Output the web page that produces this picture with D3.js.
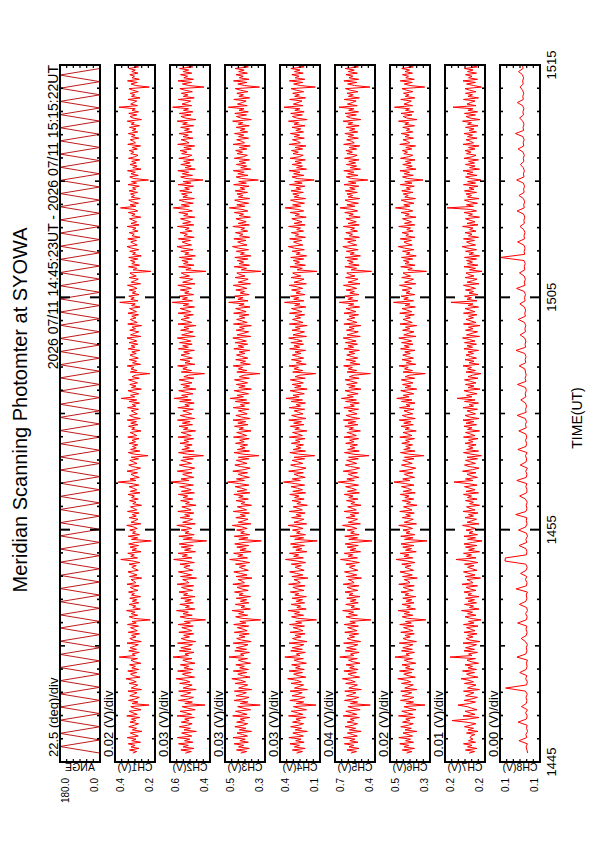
<!DOCTYPE html>
<html><head><meta charset="utf-8">
<script src="https://cdn.jsdelivr.net/npm/d3@7"></script>
<style>
body{margin:0;background:#fff}
svg text{font-family:"Liberation Sans",Arial,Helvetica,sans-serif;fill:#000}
</style></head>
<body><svg id="c" width="595" height="842"></svg>
<script>
// ---------------- data ----------------
const titleText = "Meridian Scanning Photomter at SYOWA";
const subtitleText = "2026 07/11 14:45:23UT - 2026 07/11 15:15:22UT";
const timeTickMinutes = [0, 10, 20, 30];            // minutes after 14:45 UT
const timeTickLabels = ["1445", "1455", "1505", "1515"];
const timeAxisTitle = "TIME(UT)";
const panelNames = ["ANGE", "CH1(V)", "CH2(V)", "CH3(V)", "CH4(V)", "CH5(V)", "CH6(V)", "CH7(V)", "CH8(V)"];
const divLabels = ["22.5 (deg)/div", "0.02 (V)/div", "0.03 (V)/div", "0.03 (V)/div", "0.03 (V)/div", "0.04 (V)/div", "0.02 (V)/div", "0.01 (V)/div", "0.00 (V)/div"];
const topValueLabels = ["180.0", "0.4", "0.6", "0.5", "0.4", "0.7", "0.5", "0.2", "0.1"];
const bottomValueLabels = ["0.0", "0.2", "0.4", "0.3", "0.1", "0.4", "0.3", "0.2", "0.1"];
// value ranges [bottom, top]; angle in deg, channels in mV
const valueRanges = [[0, 180], [245, 405], [400, 640], [300, 540], [140, 380], [380, 700], [330, 490], [160, 240], [100, 130]];

// scan angle at turning points, every 17 s from 14:45:23
const angleStartSec = 23, angleStepSec = 17;
const angleDeg = [0,180,0,180,0,180,0,180,0,180,0,180,0,180,0,180,0,180,0,180,0,180,0,180,0,180,0,180,0,180,
0,180,0,180,0,180,0,180,0,180,0,180,0,180,0,180,0,180,0,180,0,180,0,180,0,180,0,180,0,180,
0,180,0,180,0,180,0,180,0,180,0,180,0,180,0,180,0,180,0,180,0,180,0,180,0,180,0,180,0,180,
0,180,0,180,0,180,0,180,0,180,0,180,0,180,0];

// CH1..CH7 sampled every 4 s from 14:45:23 (mV)
const chStartSec = 23, chStepSec = 4;
const ch1 = [334,318,347,309,341,325,352,303,338,321,356,312,329,344,297,336,319,350,327,311,
345,322,339,306,358,316,333,348,301,327,342,269,337,313,351,324,308,346,330,317,
353,299,340,326,314,349,320,335,361,305,331,343,318,354,310,338,323,347,302,329,
341,315,388,324,336,308,350,319,345,327,312,357,300,333,346,321,339,307,352,316,
328,343,311,355,320,337,264,331,348,314,340,325,359,304,334,322,349,310,336,318,
346,303,339,327,351,313,332,344,309,357,322,330,341,298,347,317,335,353,312,326,
338,320,349,306,333,382,315,342,328,354,301,337,319,345,311,350,324,260,339,314,
352,307,335,323,346,316,331,358,302,341,326,313,348,320,336,309,355,318,330,343,
299,334,321,347,312,339,327,353,305,344,318,332,349,310,337,392,322,345,308,329,
341,315,357,324,303,336,350,317,331,346,311,340,273,328,352,306,343,320,335,314,
348,323,337,309,354,318,330,345,301,338,326,351,313,342,319,356,304,333,347,316,
329,340,311,355,322,336,307,349,318,380,326,343,310,334,353,300,339,321,346,315,
332,351,308,337,324,266,344,317,341,329,356,303,335,319,348,312,331,345,320,338,
306,352,325,340,314,349,318,334,357,302,343,327,310,346,323,337,299,354,316,330,
344,321,338,311,353,319,333,347,305,339,324,386,313,342,328,350,309,336,322,348,
317,331,355,303,340,326,312,349,320,336,345,262,332,318,351,307,338,325,343,314,
350,300,335,323,346,310,339,357,316,331,342,319,354,305,337,328,348,313,334,321,
356,309,341,318,333,347,302,338,325,352,314,329,383,321,345,311,336,350,304,340,
327,343,315,349,322,335,308,353,319,339,271,332,346,312,341,324,355,301,334,317,
345,320,338,306,351,326,313,342,330,348,316,337,303,354,323,331,344,310,339,325,
352,314,336,321,347,307,340,328,356,299,333,345,318,350,311,337,324,389,315,342,
330,318,353,305,339,326,344,312,335,349,268,322,341,316,355,308,337,327,346,313,
338,324,350,311,333];
const ch2 = [548,512,575,497,561,530,589,503,553,521,596,509,538,570,482,556,518,585,534,507,
572,526,552,494,598,511,543,580,489,534,567,430,551,506,590,529,499,576,540,515,
588,483,561,533,507,582,520,548,603,493,539,566,513,594,502,555,527,578,490,536,
563,508,622,529,550,496,584,514,575,532,505,595,486,545,573,523,558,498,587,510,
535,569,501,592,518,554,427,541,579,507,562,530,601,491,547,524,581,500,551,513,
575,490,559,534,586,504,543,571,498,597,526,540,564,481,577,511,549,590,503,533,
557,520,580,494,545,618,508,566,536,591,487,553,516,572,501,585,529,420,560,506,
587,495,549,527,573,510,541,599,488,564,531,505,578,521,552,497,593,514,539,569,
484,547,524,576,503,561,534,590,494,571,513,543,582,500,556,634,526,574,497,537,
564,508,596,529,492,550,584,511,541,575,500,563,439,535,589,495,569,523,552,507,
580,528,555,498,592,513,540,573,487,559,532,586,505,566,519,595,492,545,578,510,
537,563,500,593,525,551,495,582,513,615,533,570,502,546,588,485,560,522,575,508,
541,586,497,557,529,433,572,511,563,537,594,491,550,520,579,506,542,574,523,558,
494,590,530,564,507,583,515,548,596,489,570,534,501,576,527,556,485,592,510,540,
573,524,557,500,591,516,546,579,493,560,528,627,505,566,535,585,498,552,526,578,
512,543,593,490,564,530,504,582,523,554,572,425,545,514,588,496,559,531,569,506,
584,488,551,527,575,502,562,598,511,544,567,517,590,495,556,536,580,507,548,525,
596,497,564,516,547,577,491,558,532,587,506,541,620,524,572,501,553,585,494,563,
535,571,508,582,524,552,499,591,515,561,442,545,576,505,566,528,593,489,549,513,
575,519,558,496,587,533,509,570,538,579,512,557,492,594,526,543,573,502,562,530,
586,507,553,523,576,498,564,536,597,485,548,574,514,584,503,559,529,624,510,568,
540,516,590,495,560,532,572,506,551,581,436,527,566,511,592,499,557,534,577,509,
561,528,583,503,547];
const ch3 = [446,410,471,394,459,428,485,400,451,419,492,405,436,468,381,454,415,481,432,404,
470,423,449,391,494,408,440,477,386,431,464,329,448,403,486,426,396,473,437,412,
484,380,458,430,404,479,417,445,499,390,436,463,410,490,399,452,424,475,387,433,
460,405,516,426,447,393,481,411,472,429,402,491,383,442,470,420,455,395,484,407,
432,466,398,488,415,451,326,438,476,404,459,427,497,388,444,421,478,397,448,410,
472,387,456,431,483,401,440,468,395,493,423,437,461,378,474,408,446,487,400,430,
454,417,477,391,442,512,405,463,433,488,384,450,413,469,398,482,426,322,457,403,
484,392,446,424,470,407,438,496,385,461,428,402,475,418,449,394,490,411,436,466,
381,444,421,473,400,458,431,487,391,468,410,440,479,397,453,524,423,471,394,434,
461,405,493,426,389,447,481,408,438,472,397,460,337,432,486,392,466,420,449,404,
477,425,452,395,489,410,437,470,384,456,429,483,402,463,416,492,389,442,475,407,
434,460,397,490,422,448,392,479,410,509,430,467,399,443,485,382,457,419,472,405,
438,483,394,454,426,331,469,408,460,434,491,388,447,417,476,403,439,471,420,455,
391,487,427,461,404,480,412,445,493,386,467,431,398,473,424,453,382,489,407,437,
470,421,454,397,488,413,443,476,390,457,425,518,402,463,432,482,395,449,423,475,
409,440,490,387,461,427,401,479,420,451,469,324,442,411,485,393,456,428,466,403,
481,385,448,424,472,399,459,495,408,441,464,414,487,392,453,433,477,404,445,422,
493,394,461,413,444,474,388,455,429,484,403,438,514,421,469,398,450,482,391,460,
432,468,405,479,421,449,396,488,412,458,340,442,473,402,463,425,490,386,446,410,
472,416,455,393,484,430,406,467,435,476,409,454,389,491,423,440,470,399,459,427,
483,404,450,420,473,395,461,433,494,382,445,471,411,481,400,456,426,520,407,465,
437,413,487,392,457,429,469,403,448,478,333,424,463,408,489,396,454,431,474,406,
458,425,480,400,444];
const ch4 = [281,245,306,229,294,263,320,235,286,254,327,240,271,303,216,289,250,316,267,239,
305,258,284,226,329,243,275,312,221,266,299,164,283,238,321,261,231,308,272,247,
319,215,293,265,239,314,252,280,334,225,271,298,245,325,234,287,259,310,222,268,
295,240,351,261,282,228,316,246,307,264,237,326,218,277,305,255,290,230,319,242,
267,301,233,323,250,286,161,273,311,239,294,262,332,223,279,256,313,232,283,245,
307,222,291,266,318,236,275,303,230,328,258,272,296,213,309,243,281,322,235,265,
289,252,312,226,277,347,240,298,268,323,219,285,248,304,233,317,261,157,292,238,
319,227,281,259,305,242,273,331,220,296,263,237,310,253,284,229,325,246,271,301,
216,279,256,308,235,293,266,322,226,303,245,275,314,232,288,359,258,306,229,269,
296,240,328,261,224,282,316,243,273,307,232,295,172,267,321,227,301,255,284,239,
312,260,287,230,324,245,272,305,219,291,264,318,237,298,251,327,224,277,310,242,
269,295,232,325,257,283,227,314,245,344,265,302,234,278,320,217,292,254,307,240,
273,318,229,289,261,166,304,243,295,269,326,223,282,252,311,238,274,306,255,290,
226,322,262,296,239,315,247,280,328,221,302,266,233,308,259,288,217,324,242,272,
305,256,289,232,323,248,278,311,225,292,260,353,237,298,267,317,230,284,258,310,
244,275,325,222,296,262,236,314,255,286,304,159,277,246,320,228,291,263,301,238,
316,220,283,259,307,234,294,330,243,276,299,249,322,227,288,268,312,239,280,257,
328,229,296,248,279,309,223,290,264,319,238,273,349,256,304,233,285,317,226,295,
267,303,240,314,256,284,231,323,247,293,175,277,308,237,298,260,325,221,281,245,
307,251,290,228,319,265,241,302,270,311,244,289,224,326,258,275,305,234,294,262,
318,239,285,255,308,230,296,268,329,217,280,306,246,316,235,291,261,356,242,300,
272,248,322,227,292,264,304,238,283,313,168,259,298,243,324,231,289,266,309,241,
293,260,315,235,279];
const ch5 = [573,528,604,508,588,549,625,516,581,541,633,522,561,601,491,585,535,619,557,520,
603,547,578,505,635,526,567,614,499,556,597,418,577,519,624,550,511,608,562,532,
622,490,589,555,521,615,539,574,641,503,561,595,529,629,515,583,546,611,500,558,
592,522,662,550,576,507,618,530,607,553,518,631,495,568,604,543,586,511,622,525,
557,599,513,627,537,581,413,564,612,521,591,551,639,501,572,544,614,514,578,531,
606,500,587,556,620,517,567,602,510,634,547,563,593,488,609,526,575,624,517,554,
585,539,613,505,570,656,521,596,558,626,496,580,533,603,514,619,549,404,590,519,
622,507,575,546,603,525,565,640,497,594,553,520,610,539,579,509,628,530,562,599,
492,573,542,608,516,590,556,626,505,601,529,567,615,512,584,674,545,605,509,559,
594,521,634,549,503,576,618,526,564,607,513,592,428,556,624,506,599,541,580,520,
614,548,583,511,627,529,563,605,497,587,553,622,517,596,535,633,503,572,612,524,
560,593,512,629,545,579,506,615,529,649,554,601,515,574,620,493,589,539,607,522,
564,619,508,586,549,417,604,526,594,561,631,500,578,536,613,519,566,606,542,589,
505,626,551,596,520,617,531,577,634,498,603,557,514,609,547,588,494,629,524,562,
605,541,587,512,628,533,573,612,503,591,550,666,517,597,559,622,509,582,545,611,
527,567,632,500,596,552,516,615,540,584,606,408,570,528,621,507,590,555,602,519,
618,497,580,546,609,515,594,637,526,569,599,532,625,505,586,560,614,520,576,543,
633,506,596,530,572,611,499,589,554,622,519,565,660,540,605,513,582,620,502,595,
559,604,522,617,539,583,510,628,532,592,437,570,610,516,598,548,630,497,578,527,
609,535,590,509,624,555,523,603,561,613,527,587,502,631,546,567,607,514,594,551,
621,518,584,541,610,507,597,558,635,494,575,608,530,619,512,591,549,668,522,601,
563,531,626,505,593,554,604,516,579,616,421,544,599,525,629,511,588,557,612,521,
594,546,618,513,572];
const ch6 = [424,402,441,392,434,415,451,396,428,408,455,400,418,438,383,430,405,447,416,397,
440,411,427,390,456,399,420,443,386,414,434,350,426,396,448,413,394,441,419,403,
447,382,431,414,397,444,407,424,459,389,418,435,403,452,394,428,411,442,387,417,
433,400,470,413,426,392,444,401,439,415,398,453,384,421,438,409,430,393,447,399,
416,436,395,451,405,428,347,419,441,399,433,412,458,388,423,408,442,394,426,403,
439,387,430,415,446,397,420,437,393,455,410,418,433,381,440,401,425,450,396,413,
430,406,443,390,421,466,399,434,414,449,385,428,404,439,394,446,411,342,432,398,
447,391,426,410,438,400,419,455,384,433,413,397,441,408,427,393,451,402,418,436,
382,424,408,441,395,431,414,449,389,437,404,420,444,394,428,474,410,439,392,416,
433,398,452,411,387,423,444,401,419,439,394,432,355,415,448,390,435,409,427,400,
443,412,428,392,451,402,418,438,385,430,413,446,397,435,406,453,389,424,441,399,
418,434,394,452,410,426,390,444,402,463,414,437,395,422,447,383,430,407,440,398,
420,445,391,429,412,349,438,400,432,417,454,387,425,405,442,396,420,439,409,431,
390,448,413,433,398,444,403,424,455,386,435,416,394,440,411,428,383,450,401,418,
438,409,429,393,451,403,422,442,389,430,410,476,396,435,417,446,391,426,410,441,
402,421,452,387,432,412,396,443,408,427,438,344,419,401,447,390,430,414,436,399,
444,385,425,410,440,395,432,457,401,422,434,404,449,390,427,416,442,398,423,408,
455,391,432,404,422,440,386,429,413,446,399,420,468,410,435,394,426,445,388,431,
417,437,398,443,409,425,393,449,402,431,358,419,440,397,433,412,450,386,424,401,
439,406,428,390,448,417,399,435,420,441,403,427,388,451,411,421,438,396,430,413,
445,399,425,411,439,392,431,415,456,382,423,437,402,446,395,428,412,472,400,434,
418,405,447,391,429,414,436,399,424,442,351,410,433,401,449,393,427,416,440,400,
430,412,443,397,421];
const ch7 = [192,181,199,176,195,186,203,179,193,184,190,188,180,197,174,194,183,201,189,178,
198,226,193,172,204,180,190,200,176,187,196,214,191,179,202,186,175,199,190,182,
203,171,195,187,178,201,183,192,208,174,189,197,181,205,177,194,185,200,173,188,
196,179,230,186,193,175,202,181,199,187,177,204,170,191,198,184,195,176,202,180,
188,197,174,203,182,193,168,189,200,178,195,185,207,172,191,183,201,177,194,181,
199,172,194,187,202,178,190,198,175,206,184,189,196,169,200,180,192,203,176,186,
195,182,201,174,191,218,178,197,187,203,171,193,181,199,176,202,185,166,195,179,
202,175,192,184,198,179,189,205,172,196,186,177,200,183,193,174,204,180,190,197,
171,191,183,199,176,195,187,203,173,198,180,190,201,176,194,222,184,199,175,188,
196,178,205,185,172,192,201,179,189,199,175,196,167,188,203,173,197,184,193,178,
200,184,193,174,203,180,189,199,171,195,186,202,177,198,182,204,172,191,200,179,
188,196,175,204,183,192,173,201,180,216,186,197,176,191,202,170,194,182,199,178,
189,201,174,194,185,168,198,179,195,187,204,172,192,182,200,177,189,198,183,194,
173,202,185,196,177,201,180,191,205,171,197,186,175,199,184,193,170,203,178,188,
198,183,193,176,203,180,190,200,173,194,184,228,176,196,187,201,174,192,183,199,
179,189,203,172,196,185,176,200,182,192,198,166,191,179,202,174,195,185,197,177,
201,171,192,183,199,177,194,206,179,190,197,181,203,173,193,186,200,178,191,184,
205,174,196,180,190,199,171,193,185,202,177,189,236,183,197,175,191,201,172,195,
187,198,177,201,182,192,174,203,179,195,168,189,199,176,196,184,204,171,191,180,
199,181,193,173,202,186,178,197,188,200,180,193,172,204,183,189,198,176,195,185,
202,177,192,182,199,174,195,187,205,170,190,198,179,201,175,194,184,224,178,196,
189,180,203,173,194,185,199,178,191,200,167,183,197,179,204,175,193,186,199,177,
195,184,201,176,190];
// CH8 sampled every 8 s from 14:45:23 (mV)
const ch8StartSec = 23, ch8StepSec = 8;
const ch8 = [109.2,109.8,110.4,109.5,115.8,109.9,110.6,109.3,110.1,109.7,116.4,110.2,109.6,110.8,109.4,113.9,110.3,109.8,110.5,109.6,
110.9,125.8,110.1,109.5,110.7,109.9,115.2,110.4,109.7,110.2,109.4,117.3,110.6,109.8,110.3,109.5,110.9,114.1,110.2,109.7,
110.5,109.9,116.8,110.3,109.6,110.8,109.4,110.1,115.5,110.6,109.8,110.3,109.5,117.9,110.2,109.7,110.9,109.9,114.6,110.4,
109.6,110.7,126.3,125.9,110.2,109.8,110.5,115.7,109.9,110.6,109.4,110.2,116.1,110.8,109.7,110.3,109.9,118.2,110.5,109.8,
110.4,109.6,110.9,115.3,110.1,109.7,110.6,109.9,117.4,110.3,109.8,110.7,109.5,114.8,110.4,110.0,110.9,109.7,116.6,110.5,
110.1,110.8,109.9,110.6,115.9,110.3,110.9,110.2,111.0,117.1,110.4,110.8,110.1,110.9,114.4,110.6,111.1,110.3,110.8,116.9,
110.5,111.2,110.4,110.9,111.3,115.6,110.7,111.1,110.5,111.4,118.0,110.8,111.2,110.6,111.5,114.9,110.9,111.3,110.7,111.6,
116.3,111.0,111.4,110.8,111.7,115.1,111.2,111.6,110.9,111.8,117.6,111.3,111.7,111.0,111.9,115.4,111.4,111.8,111.1,112.0,
129.8,111.5,111.9,111.2,112.1,116.8,111.6,112.0,111.3,112.2,115.0,111.7,112.1,111.4,112.3,117.2,111.8,112.2,111.5,112.4,
115.8,111.9,112.3,111.6,112.5,117.5,112.0,112.4,111.7,112.6,114.7,112.1,112.5,111.8,112.7,116.4,112.2,112.6,111.9,112.8,
118.4,112.3,112.7,112.0,112.9,115.3,112.4,112.8,112.1,113.0,117.0,112.5,112.9,112.2,113.1,114.9,112.6,113.0,112.3,113.2,
116.1,112.7,113.1];
const channelSeries = [ch1, ch2, ch3, ch4, ch5, ch6, ch7, ch8];

// ---------------- drawing ----------------
const svg = d3.select("#c");
// landscape frame rotated onto the portrait page
const land = svg.append("g").attr("transform", "translate(0,842) rotate(-90)");

const x = d3.scaleLinear().domain([0, 1800]).range([80, 777]);
const panelY0 = i => 60 + 55 * i;
const panelH = 40;

panelNames.forEach((name, i) => {
  const y0 = panelY0(i), y1 = y0 + panelH;
  const y = d3.scaleLinear().domain(valueRanges[i]).range([y1, y0]);
  const g = land.append("g");
  const cid = "clip" + i;
  g.append("clipPath").attr("id", cid).append("rect")
    .attr("x", x(0)).attr("y", y0).attr("width", x(1800) - x(0)).attr("height", panelH);

  let data, t0, dt;
  if (i === 0) { data = angleDeg; t0 = angleStartSec; dt = angleStepSec; }
  else if (i === 8) { data = ch8; t0 = ch8StartSec; dt = ch8StepSec; }
  else { data = channelSeries[i - 1]; t0 = chStartSec; dt = chStepSec; }
  const line = d3.line().x((d, k) => x(t0 + k * dt)).y(d => y(d));
  g.append("path").datum(data).attr("clip-path", `url(#${cid})`)
    .attr("d", line).attr("fill", "none")
    .attr("stroke", i === 0 ? "#b80000" : "#ff0000")
    .attr("stroke-width", i === 0 ? 0.9 : 1);

  // time ticks (every minute) on both long edges
  d3.range(1, 30).forEach(m => {
    const len = m % 10 === 0 ? 10 : (m % 5 === 0 ? 5 : 3);
    const sw = m % 10 === 0 ? 2 : 1.6;
    const X = x(m * 60);
    g.append("line").attr("x1", X).attr("x2", X).attr("y1", y0).attr("y2", y0 + len)
      .attr("stroke", "#000").attr("stroke-width", sw);
    g.append("line").attr("x1", X).attr("x2", X).attr("y1", y1).attr("y2", y1 - len)
      .attr("stroke", "#000").attr("stroke-width", sw);
  });
  // value ticks on the short edges
  d3.range(1, 6).forEach(k => {
    const Y = y0 + k * panelH / 6;
    g.append("line").attr("x1", x(0)).attr("x2", x(0) + 3).attr("y1", Y).attr("y2", Y)
      .attr("stroke", "#000").attr("stroke-width", 1.2);
    g.append("line").attr("x1", x(1800)).attr("x2", x(1800) - 3).attr("y1", Y).attr("y2", Y)
      .attr("stroke", "#000").attr("stroke-width", 1.2);
  });
  // frame
  g.append("rect").attr("x", x(0)).attr("y", y0).attr("width", x(1800) - x(0)).attr("height", panelH)
    .attr("fill", "none").attr("stroke", "#000").attr("stroke-width", 2);

  // value labels
  g.append("text").attr("x", 64).attr("y", y0 + 9).attr("text-anchor", "end")
    .attr("font-size", 10).text(topValueLabels[i]);
  g.append("text").attr("x", 64).attr("y", y1 - 2).attr("text-anchor", "end")
    .attr("font-size", 10).text(bottomValueLabels[i]);
  // div label
  g.append("text").attr("x", 85).attr("y", y0 - 2).attr("font-size", 13).text(divLabels[i]);

  // mirrored channel name (page coordinates)
  svg.append("text").attr("transform", `translate(${y0 + 20},771) scale(-1,1)`)
    .attr("text-anchor", "middle").attr("font-size", 10.5).text(name);
});

// time axis labels
timeTickMinutes.forEach((m, k) => {
  land.append("text").attr("x", x(m * 60)).attr("y", 556).attr("text-anchor", "middle")
    .attr("font-size", 13).text(timeTickLabels[k]);
});
land.append("text").attr("x", 424).attr("y", 582).attr("text-anchor", "middle")
  .attr("font-size", 14).text(timeAxisTitle);

// titles
land.append("text").attr("x", 432).attr("y", 27).attr("text-anchor", "middle")
  .attr("font-size", 20).text(titleText);
land.append("text").attr("x", 777).attr("y", 58).attr("text-anchor", "end")
  .attr("font-size", 14).text(subtitleText);
</script>
</body></html>
